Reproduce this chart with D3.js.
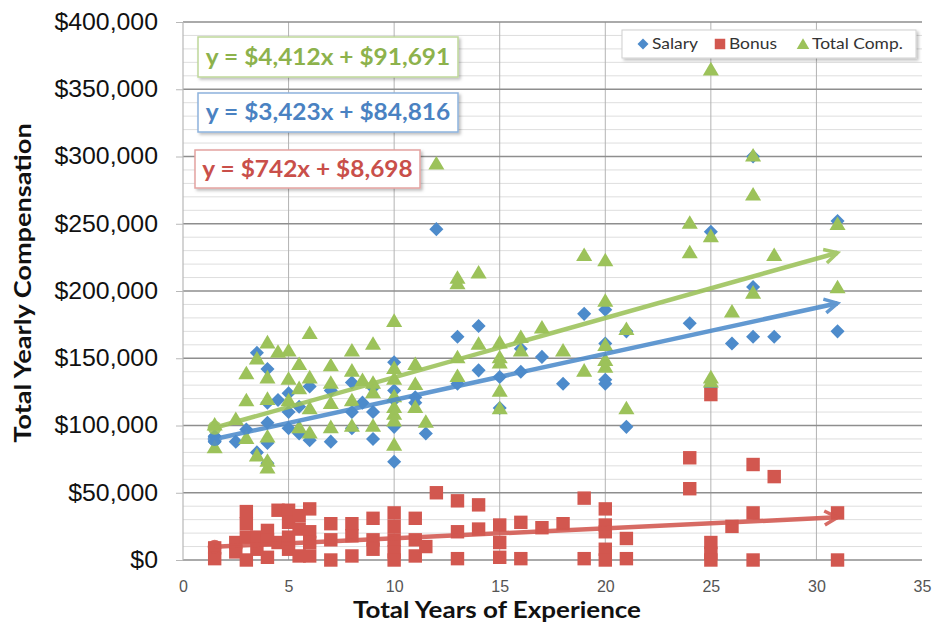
<!DOCTYPE html>
<html>
<head>
<meta charset="utf-8">
<script src="https://cdn.jsdelivr.net/npm/d3@7"></script>
<style>
  body { margin: 0; background: #ffffff; }
  svg { display: block; font-family: Lato, "Open Sans", sans-serif; }
</style>
</head>
<body>
<div id="myDiv"></div>
<script>
//--------------------------------------------------
// Data: [years, dollars]
//--------------------------------------------------
var salaryPoints = [
  [1.5, 92000], [1.5, 88000], [2.5, 88000], [3, 97000], [3.5, 154000], [3.5, 80000],
  [4, 142000], [4, 117000], [4, 102000], [4, 87000], [4, 72000], [4.5, 119000],
  [5, 124000], [5, 110000], [5, 98000], [5.5, 114000], [5.5, 94000], [6, 129000], [6, 89000],
  [7, 126000], [7, 88000], [8, 132000], [8, 110000], [8, 98000], [8.5, 117000],
  [9, 128000], [9, 110000], [9, 90000], [10, 147000], [10, 126000], [10, 119000], [10, 99000], [10, 73000],
  [11, 121000], [11, 117000], [11.5, 94000], [12, 246000], [13, 166000], [13, 131000],
  [14, 174000], [14, 141000], [15, 136000], [15, 113000], [16, 157000], [16, 140000],
  [17, 151000], [18, 131000], [19, 183000], [20, 186000], [20, 161000], [20, 134000], [20, 131000],
  [21, 170000], [21, 99000], [24, 176000], [25, 244000], [25, 128000], [26, 161000],
  [27, 300000], [27, 203000], [27, 166000], [28, 166000], [31, 252000], [31, 170000]
];

var bonusPoints = [
  [1.5, 9000], [1.5, 1000], [2.5, 13000], [2.5, 6000], [3, 36000], [3, 27000], [3, 17000], [3, 0],
  [3.5, 17000], [3.5, 8000], [4, 22000], [4, 15000], [4, 2000], [4.5, 37000], [4.5, 13000],
  [5, 37000], [5, 28000], [5, 17000], [5, 8000], [5.5, 33000], [5.5, 23000], [5.5, 3000],
  [6, 38000], [6, 21000], [6, 13000], [6, 3000], [7, 27000], [7, 15000], [7, 0],
  [8, 27000], [8, 18000], [8, 3000], [9, 31000], [9, 15000], [9, 8000],
  [10, 35000], [10, 25000], [10, 15000], [10, 6000], [10, 0], [11, 31000], [11, 15000], [11, 3000],
  [11.5, 10000], [12, 50000], [13, 44000], [13, 21000], [13, 1000], [14, 41000], [14, 23000],
  [15, 26000], [15, 13000], [15, 2000], [16, 28000], [16, 1000], [17, 24000], [18, 27000],
  [19, 46000], [19, 1000], [20, 38000], [20, 26000], [20, 21000], [20, 8000], [20, 0],
  [21, 16000], [21, 1000], [24, 76000], [24, 53000], [25, 123000], [25, 13000], [25, 5000], [25, 0],
  [26, 25000], [27, 71000], [27, 35000], [27, 0], [28, 62000], [31, 35000], [31, 0]
];

var totalPoints = [
  [1.5, 101000], [1.5, 84000], [2.5, 105000], [3, 139000], [3, 119000], [3, 91000],
  [3.5, 150000], [3.5, 78000], [4, 162000], [4, 136000], [4, 120000], [4, 92000], [4, 74000], [4, 69000],
  [4.5, 155000], [5, 156000], [5, 135000], [5, 119000], [5.5, 146000], [5.5, 128000], [5.5, 99000],
  [6, 169000], [6, 136000], [6, 113000], [6, 95000], [7, 145000], [7, 132000], [7, 117000], [7, 99000],
  [8, 156000], [8, 141000], [8, 119000], [8, 100000], [8.5, 134000],
  [9, 161000], [9, 132000], [9, 125000], [9, 100000],
  [10, 178000], [10, 143000], [10, 135000], [10, 122000], [10, 114000], [10, 109000], [10, 104000], [10, 86000],
  [11, 146000], [11, 131000], [11, 114000], [11.5, 103000], [12, 295000],
  [13, 210000], [13, 206000], [13, 151000], [13, 137000], [14, 214000], [14, 161000],
  [15, 162000], [15, 151000], [15, 147000], [15, 126000], [15, 113000], [16, 166000], [16, 156000],
  [17, 173000], [18, 156000], [19, 227000], [19, 141000],
  [20, 223000], [20, 193000], [20, 160000], [20, 149000], [20, 144000], [21, 172000], [21, 113000],
  [24, 251000], [24, 229000], [25, 365000], [25, 241000], [25, 136000], [25, 133000],
  [26, 185000], [27, 301000], [27, 272000], [27, 199000], [28, 227000], [31, 250000], [31, 203000]
];

var seriesNames = ['Salary', 'Bonus', 'Total Comp.'];
var trendSlopes = [3423, 742, 4412];
var trendIntercepts = [84816, 8698, 91691];
var trendLabels = ['y = $3,423x + $84,816', 'y = $742x + $8,698', 'y = $4,412x + $91,691'];
var trendRange = [1.5, 31];
var xTicks = [0, 5, 10, 15, 20, 25, 30, 35];
var yTicks = [0, 50000, 100000, 150000, 200000, 250000, 300000, 350000, 400000];

//--------------------------------------------------
// Properties
//--------------------------------------------------
var xAxisTitle = 'Total Years of Experience';
var yAxisTitle = 'Total Yearly Compensation';
var seriesColors = ['#4D8BCB', '#D2574F', '#9CC25A'];
var textColors = ['#4A82C2', '#C94F4A', '#8DB24C'];
var boxBorders = ['#8DB3DD', '#E3A3A0', '#BFD79A'];
// label boxes: salary, bonus, total
var labelBoxes = [
  {x: 198, y: 93, w: 260, h: 39},
  {x: 195, y: 150, w: 225, h: 38},
  {x: 198, y: 37, w: 260, h: 40}
];

var margin = {top: 22, right: 14, bottom: 65, left: 183};
var winWidth = 936, winHeight = 625;
var width = winWidth - margin.left - margin.right,
    height = winHeight - margin.top - margin.bottom;

var svg = d3.select('#myDiv').append('svg')
  .attr('width', winWidth)
  .attr('height', winHeight);

var defs = svg.append('defs');
var shadow = defs.append('filter').attr('id', 'shadow')
  .attr('x', '-10%').attr('y', '-20%').attr('width', '130%').attr('height', '160%');
shadow.append('feDropShadow')
  .attr('dx', 2).attr('dy', 2).attr('stdDeviation', 1.5)
  .attr('flood-color', '#000').attr('flood-opacity', 0.25);

seriesColors.forEach(function(c, i) {
  defs.append('marker')
    .attr('id', 'arrow' + i)
    .attr('markerUnits', 'userSpaceOnUse')
    .attr('viewBox', '-16 -10 20 20')
    .attr('refX', 0).attr('refY', 0)
    .attr('markerWidth', 20).attr('markerHeight', 20)
    .attr('orient', 'auto')
    .append('path')
      .attr('d', 'M-13,-7L0,0L-13,7')
      .attr('fill', 'none')
      .attr('stroke', c)
      .attr('stroke-width', 3.5)
      .attr('stroke-linejoin', 'miter');
});

var g = svg.append('g')
  .attr('transform', 'translate(' + margin.left + ',' + margin.top + ')');

var x = d3.scaleLinear().domain([0, 35]).range([0, width]);
var y = d3.scaleLinear().domain([0, 400000]).range([height, 0]);

drawGrid();
drawAxes();
drawMarkers();
drawTrends();
drawLabels();
drawLegend();

// the reference type is wider than Lato, so stretch text to the widths seen there
function stretch(sel, factor) {
  sel.each(function() {
    var w = this.getComputedTextLength();
    d3.select(this).attr('textLength', w * factor).attr('lengthAdjust', 'spacingAndGlyphs');
  });
}

function drawGrid() {
  var minor = d3.range(0, 400001, 10000).filter(function(v) { return v % 50000 !== 0; });
  g.append('g').selectAll('line')
    .data(minor).enter().append('line')
      .attr('x1', 0).attr('x2', width)
      .attr('y1', function(d) { return y(d); })
      .attr('y2', function(d) { return y(d); })
      .attr('stroke', '#dedede').attr('stroke-width', 1);

  g.append('g').selectAll('line')
    .data(xTicks.slice(1, -1)).enter().append('line')
      .attr('x1', function(d) { return x(d); })
      .attr('x2', function(d) { return x(d); })
      .attr('y1', 0).attr('y2', height)
      .attr('stroke', '#b3b3b3').attr('stroke-width', 1);

  g.append('g').selectAll('line')
    .data(yTicks).enter().append('line')
      .attr('x1', 0).attr('x2', width)
      .attr('y1', function(d) { return y(d); })
      .attr('y2', function(d) { return y(d); })
      .attr('stroke', '#8e8e8e').attr('stroke-width', 1.6);

  g.append('line')
    .attr('x1', 0).attr('x2', 0).attr('y1', 0).attr('y2', height)
    .attr('stroke', '#b8b8b8').attr('stroke-width', 1.2);
}

function drawAxes() {
  var yAxis = g.append('g')
    .call(d3.axisLeft(y).tickValues(yTicks)
      .tickFormat(function(d) { return '$' + d3.format(',')(d); })
      .tickSize(7).tickPadding(18));
  yAxis.select('.domain').remove();
  yAxis.selectAll('line').attr('stroke', '#b8b8b8');
  yAxis.selectAll('text')
    .style('font-size', '23px')
    .style('fill', '#111')
    .call(stretch, 1.08);

  var xAxis = g.append('g')
    .attr('transform', 'translate(0,' + height + ')')
    .call(d3.axisBottom(x).tickValues(xTicks).tickSize(0).tickPadding(21));
  xAxis.select('.domain').remove();
  xAxis.selectAll('text')
    .style('font-size', '16px')
    .style('fill', '#555');

  svg.append('text')
    .attr('x', 497).attr('y', 618)
    .attr('text-anchor', 'middle')
    .style('font-size', '23px').style('font-weight', 'bold').style('fill', '#111')
    .text(xAxisTitle)
    .call(stretch, 1.13);

  svg.append('text')
    .attr('transform', 'translate(31,' + 283 + ') rotate(-90)')
    .attr('text-anchor', 'middle')
    .style('font-size', '23px').style('font-weight', 'bold').style('fill', '#111')
    .text(yAxisTitle)
    .call(stretch, 1.18);
}

function markerPath(i, size) {
  if (i === 0) return d3.symbol(d3.symbolSquare, size * 0.55)();
  if (i === 1) return d3.symbol(d3.symbolSquare, size)();
  var w = Math.sqrt(size) * 0.6, h = Math.sqrt(size) * 0.47;
  return 'M0,' + (-h * 1.15) + 'L' + w + ',' + h + 'L' + (-w) + ',' + h + 'Z';
}

function drawMarkers() {
  var all = [salaryPoints, bonusPoints, totalPoints];
  all.forEach(function(pts, i) {
    g.append('g').selectAll('path')
      .data(pts).enter().append('path')
        .attr('d', markerPath(i, 180))
        .attr('transform', function(d) {
          return 'translate(' + x(d[0]) + ',' + y(d[1]) + ')' + (i === 0 ? ' rotate(45)' : '');
        })
        .attr('fill', seriesColors[i]);
  });
}

function drawTrends() {
  trendSlopes.forEach(function(m, i) {
    var b = trendIntercepts[i];
    var x0 = trendRange[0], x1 = trendRange[1];
    var tg = g.append('g').attr('opacity', 0.88);
    tg.append('circle')
      .attr('cx', x(x0)).attr('cy', y(m * x0 + b)).attr('r', 7)
      .attr('fill', seriesColors[i]);
    tg.append('line')
      .attr('x1', x(x0)).attr('y1', y(m * x0 + b))
      .attr('x2', x(x1)).attr('y2', y(m * x1 + b))
      .attr('stroke', seriesColors[i]).attr('stroke-width', 4.5)
      .attr('marker-end', 'url(#arrow' + i + ')');
  });
}

function drawLabels() {
  labelBoxes.forEach(function(bx, i) {
    var lg = svg.append('g');
    lg.append('rect')
      .attr('x', bx.x).attr('y', bx.y).attr('width', bx.w).attr('height', bx.h)
      .attr('fill', '#fff').attr('stroke', boxBorders[i]).attr('stroke-width', 1.5)
      .attr('filter', 'url(#shadow)');
    lg.append('text')
      .attr('x', bx.x + bx.w / 2).attr('y', bx.y + bx.h / 2)
      .attr('dy', '0.36em')
      .attr('text-anchor', 'middle')
      .style('font-size', '22px').style('font-weight', 'bold')
      .style('fill', textColors[i])
      .text(trendLabels[i])
      .call(stretch, 1.11);
  });
}

function drawLegend() {
  var lg = svg.append('g').attr('transform', 'translate(622,30)');
  lg.append('rect')
    .attr('width', 294).attr('height', 28)
    .attr('fill', '#fff').attr('stroke', '#d0d0d0').attr('stroke-width', 1)
    .attr('filter', 'url(#shadow)');
  var itemX = [21, 98, 181];
  seriesNames.forEach(function(name, i) {
    lg.append('path')
      .attr('d', markerPath(i, 110))
      .attr('transform', 'translate(' + itemX[i] + ',14)' + (i === 0 ? ' rotate(45)' : ''))
      .attr('fill', seriesColors[i]);
    lg.append('text')
      .attr('x', itemX[i] + 9).attr('y', 14).attr('dy', '0.35em')
      .style('font-size', '15px').style('fill', '#333')
      .text(name)
      .call(stretch, 1.16);
  });
}
</script>
</body>
</html>
